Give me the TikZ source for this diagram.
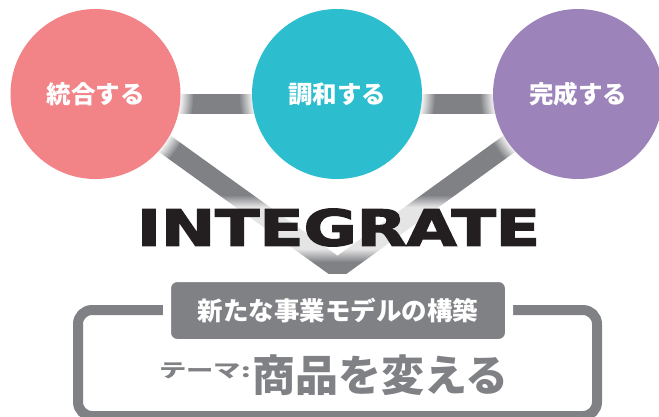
\documentclass[tikz,border=0pt]{standalone}
\usepackage{fontspec}
\usepackage{graphicx}
\usetikzlibrary{fadings}
\newfontfamily\jp{Noto Sans CJK JP}
\newfontfamily\integfont[FakeBold=2.5]{DejaVu Sans Bold}
\definecolor{pinkc}{RGB}{242,132,136}
\definecolor{tealc}{RGB}{44,190,206}
\definecolor{purplec}{RGB}{156,132,186}
\definecolor{grayc}{RGB}{128,129,133}
\definecolor{darkc}{RGB}{35,31,32}
\newcommand\integword{\resizebox{403pt}{37pt}{\integfont INTEGRATE}}
\pgfdeclareradialshading{ringshade}{\pgfpointorigin}{color(0bp)=(white); color(21.25bp)=(white); color(25bp)=(black); color(50bp)=(black)}
\pgfdeclarefading{ringfade}{\pgfuseshading{ringshade}}
\pgfdeclareverticalshading{bandshade}{100bp}{color(0bp)=(black); color(25bp)=(black); color(35bp)=(white!80!black); color(66bp)=(white!80!black); color(75bp)=(black); color(100bp)=(black)}
\pgfdeclarefading{bandfade}{\pgfuseshading{bandshade}}
\pgfdeclarelayer{bg}
\pgfdeclarelayer{glow}
\pgfsetlayers{bg,glow,main}
\tikzset{
  bubble/.style={circle, minimum size=170pt, inner sep=0pt, text=white, font=\jp\bfseries\fontsize{24.5}{26}\selectfont},
  bar/.style={draw=grayc, line width=20pt},
  cglow/.style={fill=white, path fading=ringfade},
  tglow/.style={fill=white, path fading=bandfade},
  framebox/.style={draw=grayc, line width=10pt, rounded corners=14pt},
  tab/.style={fill=grayc, draw=white, line width=8pt, rounded corners=10pt, minimum width=342pt, minimum height=65pt, inner sep=0pt, text=white, font=\jp\bfseries\fontsize{25.5}{27}\selectfont},
}
\begin{document}
\begin{tikzpicture}[x=1pt, y=-1pt]
\useasboundingbox (0,0) rectangle (659,416);
% circles
\node[bubble, fill=pinkc] (a) at (95.5,94) {統合する};
\node[bubble, fill=tealc] (b) at (337,94) {調和する};
\node[bubble, fill=purplec] (c) at (578,94) {完成する};
\coordinate (apex) at (337.5,268);
% bars
\begin{pgfonlayer}{bg}
\draw[bar] ([yshift=-10pt]a.center) -- ([yshift=-10pt]b.center);
\draw[bar] ([yshift=-10pt]b.center) -- ([yshift=-10pt]c.center);
\draw[bar, line join=miter] (a.center) -- (apex) -- (c.center);
\end{pgfonlayer}
% glows
\begin{pgfonlayer}{glow}
\foreach \n in {a,b,c}{
  \fill[cglow] (\n.center) circle (98);
}
\fill[tglow] (130,195) rectangle (547,262);
\end{pgfonlayer}
% title
\node[inner sep=0pt, text=darkc] (it) at (338.5,227.5) {\integword};
% bottom frame
\draw[framebox] (78,310) rectangle (597,416);
\node[tab] (t) at (338,310.5) {新たな事業モデルの構築};
\node[anchor=east, inner sep=0pt, text=grayc, font=\jp\bfseries\fontsize{21}{22}\selectfont] (th) at (251,371) {\scalebox{1.3}[0.9]{テーマ:}};
\node[anchor=west, inner sep=0pt, text=grayc, font=\jp\bfseries\fontsize{43}{45}\selectfont] (tm) at (252,375) {商品を変える};
\end{tikzpicture}
\end{document}
